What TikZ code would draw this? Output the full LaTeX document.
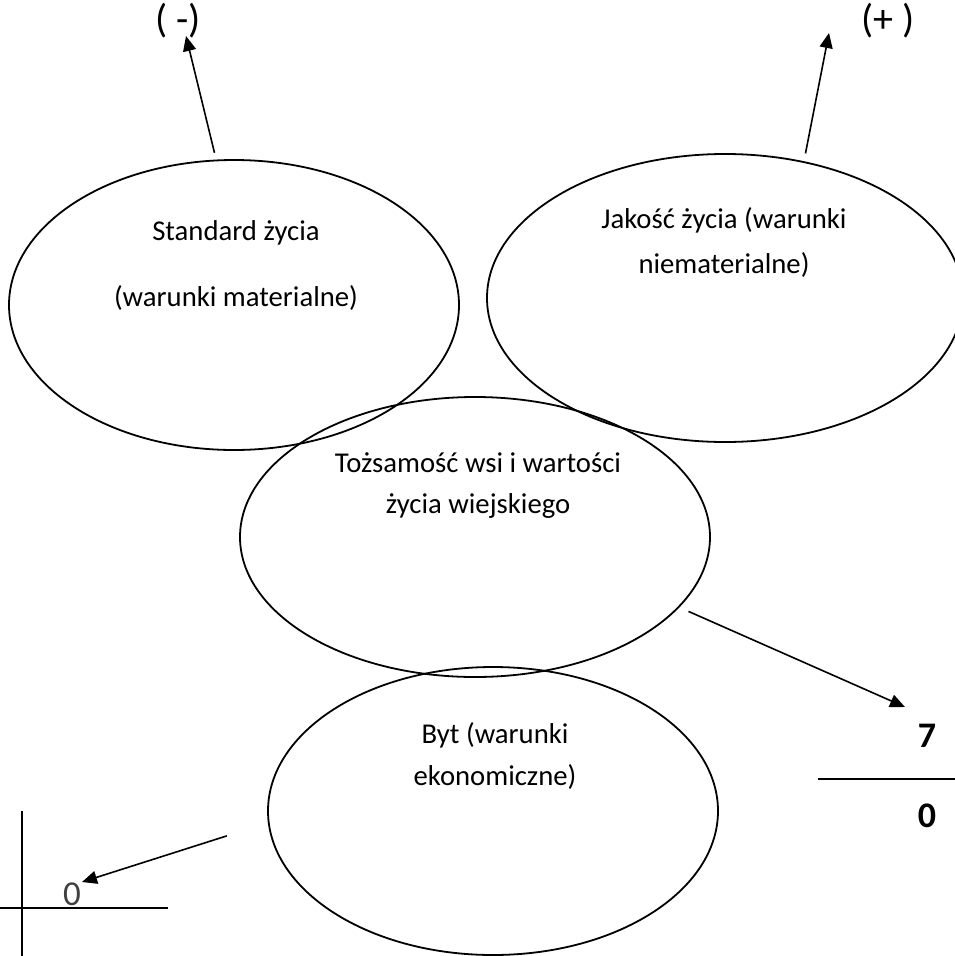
\documentclass[tikz,border=0pt]{standalone}
\usepackage{fontspec}
\setmainfont{Carlito}
\usetikzlibrary{shapes.geometric,arrows.meta,positioning}

\tikzset{
  bubble/.style={draw, ellipse, line width=1.8pt, inner sep=0pt},
  txt/.style={anchor=base, inner sep=0pt, font=\fontsize{28.7}{34}\selectfont},
  sign/.style={anchor=base, inner sep=0pt, font=\fontsize{40}{46}\selectfont},
  num/.style={anchor=base, inner sep=0pt, font=\fontsize{36}{42}\selectfont\bfseries},
  pointer/.style={line width=1.6pt, -{Triangle[length=15pt,width=13pt]}},
  rule/.style={line width=1.8pt},
}

\begin{document}
\begin{tikzpicture}[x=1pt, y=-1pt]
  \clip (0,0) rectangle (955,956);
  % the four spheres
  \node[bubble, minimum width=450pt, minimum height=290pt] (std) at (234,305) {};
  \node[bubble, minimum width=476pt, minimum height=288pt] (jak) at (725,298) {};
  \node[bubble, minimum width=470pt, minimum height=280pt] (toz) at (475,537) {};
  \node[bubble, minimum width=450pt, minimum height=288pt] (byt) at (493,811) {};

  \node[txt] (std1) at (236,240) {Standard życia};
  \node[txt] (std2) at (236,306) {(warunki materialne)};
  \node[txt] (jak1) at (724,228) {Jakość życia (warunki};
  \node[txt] (jak2) at (724,273) {niematerialne)};
  \node[txt] (toz1) at (478,472) {Tożsamość wsi i wartości};
  \node[txt] (toz2) at (478,513) {życia wiejskiego};
  \node[txt] (byt1) at (495,743) {Byt (warunki};
  \node[txt] (byt2) at (495,785) {ekonomiczne)};

  % scale marks
  \node[sign] (minus) at (178,32) {( -)};
  \node[sign] (plus) at (888,32) {(+ )};
  \node[num] (seven) at (927,747) {7};
  \node[num] (zero) at (927,827) {0};
  \node[sign, font=\fontsize{35}{40}\selectfont, text=black!75] (origin) at (72,905) {0};

  \coordinate (minustip) at (186,36);
  \coordinate (plustip) at (829,33);
  \coordinate (seventip) at (905,707);
  \coordinate (origintip) at (82,882);

  \draw[pointer, shorten <=7pt] (std.97) -- (minustip);
  \draw[pointer, shorten <=8pt] (jak.60) -- (plustip);
  \draw[pointer, shorten <=10pt] (toz.-19) -- (seventip);
  \draw[pointer, shorten <=43pt] (byt.183) -- (origintip);

  \draw[rule] (818,779) -- (955,779);
  \draw[rule] (22,811) -- (22,956);
  \draw[rule] (0,908) -- (168,908);
\end{tikzpicture}
\end{document}
